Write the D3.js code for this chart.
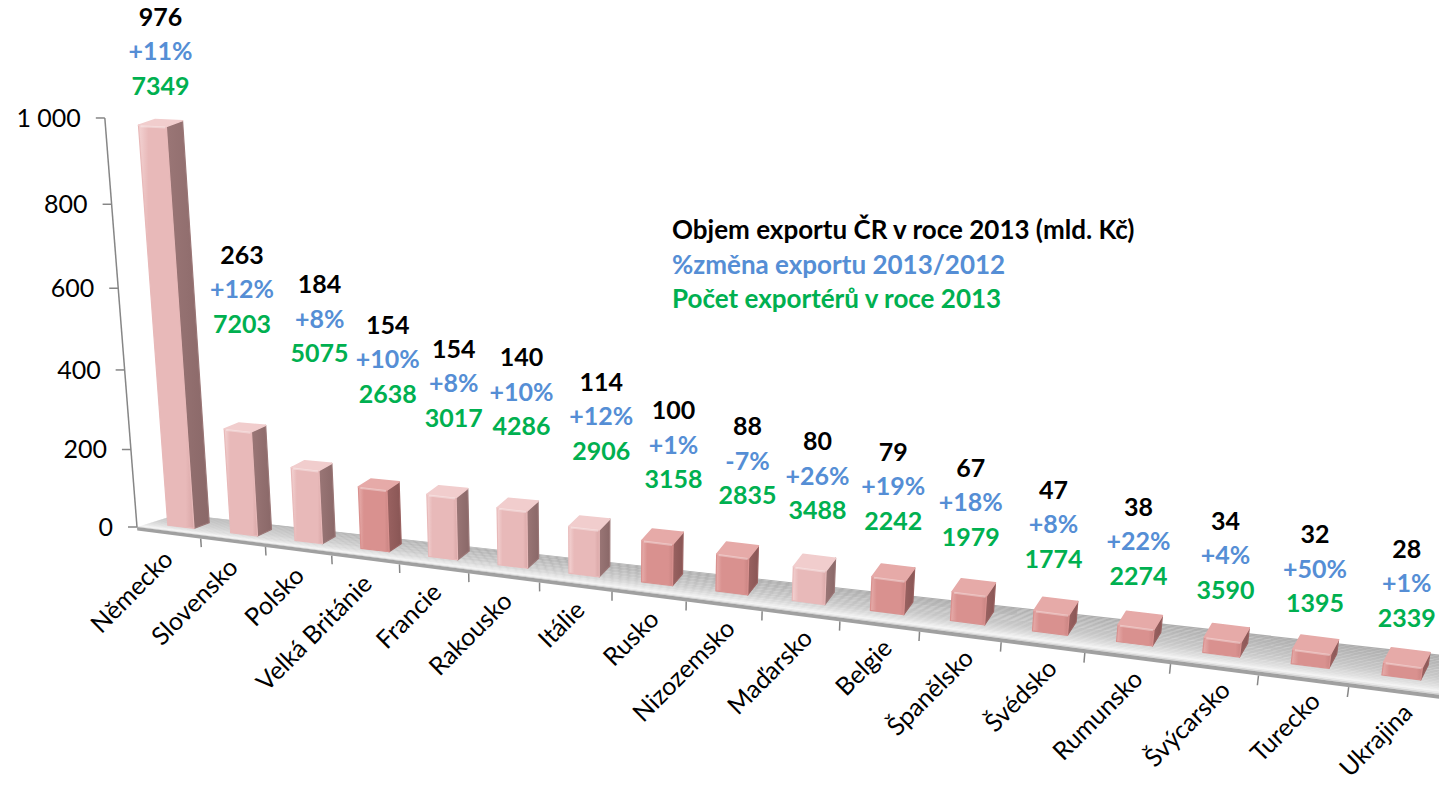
<!DOCTYPE html>
<html>
<head>
<meta charset="utf-8">
<script src="https://cdn.jsdelivr.net/npm/d3@7"></script>
<style>
  html, body { margin: 0; padding: 0; background: #ffffff; }
  svg { display: block; }
</style>
</head>
<body>
<svg id="chart" width="1439" height="791"></svg>
<script>
// ---------------- data ----------------
const categories = ["Německo","Slovensko","Polsko","Velká Británie","Francie","Rakousko","Itálie","Rusko","Nizozemsko","Maďarsko","Belgie","Španělsko","Švédsko","Rumunsko","Švýcarsko","Turecko","Ukrajina"];
const exportVolume = [976, 263, 184, 154, 154, 140, 114, 100, 88, 80, 79, 67, 47, 38, 34, 32, 28];
const exportChange = [11, 12, 8, 10, 8, 10, 12, 1, -7, 26, 19, 18, 8, 22, 4, 50, 1];
const exporterCount = [7349, 7203, 5075, 2638, 3017, 4286, 2906, 3158, 2835, 3488, 2242, 1979, 1774, 2274, 3590, 1395, 2339];
const barGroup = ["A","A","A","B","A","A","A","B","B","A","B","B","B","B","B","B","B"];
const valueTicks = [0, 200, 400, 600, 800, 1000];
const legendLabels = ["Objem exportu ČR v roce 2013 (mld. Kč)", "%změna exportu 2013/2012", "Počet exportérů v roce 2013"];

// ---------------- setup ----------------
const svg = d3.select("#chart");
const FONT = "Lato, 'Open Sans', sans-serif";
const locale = d3.formatLocale({decimal: ",", thousands: " ", grouping: [3], currency: ["", " Kč"], minus: "-"});
const fmtTick = locale.format(",");
const fmtPct = v => locale.format("+d")(v) + "%";
const fmtCount = locale.format("d");

// world scales
const xBand = d3.scaleBand().domain(categories).range([0, categories.length]);
const yWorld = d3.scaleLinear().domain([0, 1000]).range([0, 1]);
// depth direction (oblique, varies along the floor to mimic perspective)
const zx = d3.scaleLinear().domain([0, 3, 8, 17]).range([16, 12, 9, 6]);
const zy = d3.scaleLinear().domain([0, 8, 17]).range([-5, -11, -12]);

// perspective projection (fitted to the picture)
const P = {a0: 137, a1: 61.3, a3: -39, b0: 527, b1: 2.435, b3: -416.7, c1: -0.01072, c3: -0.0651};
function proj(X, Y, Z) {
  const w = 1 + P.c1 * X + P.c3 * Y;
  return [(P.a0 + P.a1 * X + P.a3 * Y + Z * zx(X)) / w,
          (P.b0 + P.b1 * X + P.b3 * Y + Z * zy(X)) / w];
}
const poly = pts => pts.map(p => p.join(",")).join(" ");

const nCat = categories.length;
const floorDepth = 2.6, zFront = 0.8, zBack = 1.8, slab = -0.009;

// ---------------- defs (gradients) ----------------
const defs = svg.append("defs");
const palette = {
  A: {front: "#e8b9b9", light: "#f3d3d3", dark: "#d9a7a7", side: "#9a7676", sideDark: "#8a6868", top: "#f1cdcd"},
  B: {front: "#d9918f", light: "#e7aeac", dark: "#c98482", side: "#9a6261", sideDark: "#895655", top: "#e6aaa8"}
};
Object.entries(palette).forEach(([k, c]) => {
  const gf = defs.append("linearGradient").attr("id", "front" + k).attr("x1", 0).attr("x2", 1).attr("y1", 0).attr("y2", 0);
  gf.append("stop").attr("offset", 0).attr("stop-color", c.light);
  gf.append("stop").attr("offset", 0.18).attr("stop-color", c.front);
  gf.append("stop").attr("offset", 0.85).attr("stop-color", c.front);
  gf.append("stop").attr("offset", 1).attr("stop-color", c.dark);
  const gs = defs.append("linearGradient").attr("id", "side" + k).attr("x1", 0).attr("x2", 1).attr("y1", 0).attr("y2", 0);
  gs.append("stop").attr("offset", 0).attr("stop-color", c.side);
  gs.append("stop").attr("offset", 1).attr("stop-color", c.sideDark);
});

// ---------------- floor ----------------
const gFloor = svg.append("g");
const floorShade = d3.scaleLinear().domain([0, 0.08, 0.2, 0.45, 1]).range(["#c9c9c9", "#f6f6f6", "#e1e1e1", "#c8c8c8", "#adadad"]);
const nStrips = 26;
d3.range(nStrips).forEach(s => {
  const z0 = floorDepth * s / nStrips, z1 = floorDepth * (s + 1.15) / nStrips;
  gFloor.append("polygon")
    .attr("points", poly([proj(0, 0, z0), proj(nCat, 0, z0), proj(nCat, 0, Math.min(z1, floorDepth)), proj(0, 0, Math.min(z1, floorDepth))]))
    .attr("fill", floorShade((s + 0.5) / nStrips));
});
gFloor.append("polygon")
  .attr("points", poly([proj(0, 0, 0), proj(nCat, 0, 0), proj(nCat, slab, 0), proj(0, slab, 0)]))
  .attr("fill", "#a0a0a0");
gFloor.selectAll("line.ctick").data(d3.range(1, nCat)).join("line")
  .attr("class", "ctick")
  .attr("x1", i => proj(i, slab, 0)[0]).attr("y1", i => proj(i, slab, 0)[1])
  .attr("x2", i => proj(i, slab - 0.022, 0)[0]).attr("y2", i => proj(i, slab - 0.022, 0)[1])
  .attr("stroke", "#868686").attr("stroke-width", 1.5);

// ---------------- value axis ----------------
const axisLine = [proj(0, 0, 0), proj(0, 1, 0)];
svg.append("line")
  .attr("x1", axisLine[0][0]).attr("y1", axisLine[0][1])
  .attr("x2", axisLine[1][0]).attr("y2", axisLine[1][1])
  .attr("stroke", "#868686").attr("stroke-width", 1.5);
const yAxis = d3.axisLeft(d3.scaleLinear().domain([0, 1000]).range([0, 1]))
  .tickValues(valueTicks).tickFormat(fmtTick).tickSize(9).tickPadding(15);
const gAxis = svg.append("g").call(yAxis)
  .attr("font-family", FONT).attr("font-size", 25);
gAxis.select(".domain").remove();
gAxis.selectAll(".tick")
  .attr("transform", d => { const p = proj(0, yWorld(d), 0); return `translate(${p[0]},${p[1]})`; });
gAxis.selectAll(".tick line").attr("stroke", "#868686").attr("stroke-width", 1.5);
gAxis.selectAll(".tick text").attr("fill", "#000").attr("dy", "0.35em");

// ---------------- bars ----------------
const bw = xBand.bandwidth() * 0.42;
const bars = categories.map((c, i) => {
  const X0 = xBand(c) + (xBand.bandwidth() - bw) / 2, X1 = X0 + bw, Y = yWorld(exportVolume[i]);
  return {c, i, X0, X1, Y, g: barGroup[i]};
});
const gBars = svg.append("g");
bars.forEach(b => {
  const g = gBars.append("g");
  const col = palette[b.g];
  g.append("polygon")
    .attr("points", poly([proj(b.X1, 0, zFront), proj(b.X1, 0, zBack), proj(b.X1, b.Y, zBack), proj(b.X1, b.Y, zFront)]))
    .attr("fill", `url(#side${b.g})`).attr("stroke", col.side).attr("stroke-width", 1.2).attr("stroke-linejoin", "round");
  g.append("polygon")
    .attr("points", poly([proj(b.X0, 0, zFront), proj(b.X1, 0, zFront), proj(b.X1, b.Y, zFront), proj(b.X0, b.Y, zFront)]))
    .attr("fill", `url(#front${b.g})`).attr("stroke", col.front).attr("stroke-width", 1.2).attr("stroke-linejoin", "round");
  g.append("polygon")
    .attr("points", poly([proj(b.X0, b.Y, zFront), proj(b.X1, b.Y, zFront), proj(b.X1, b.Y, zBack), proj(b.X0, b.Y, zBack)]))
    .attr("fill", col.top).attr("stroke", col.top).attr("stroke-width", 1.5).attr("stroke-linejoin", "round");
  const e0 = proj(b.X0, b.Y, zFront), e1 = proj(b.X1, b.Y, zFront);
  g.append("line").attr("x1", e0[0] + 2).attr("y1", e0[1] + 1).attr("x2", e1[0] - 1).attr("y2", e1[1] + 1)
    .attr("stroke", "#ffffff").attr("stroke-opacity", 0.35).attr("stroke-width", 2);
});

// ---------------- data labels ----------------
// layout rules for the hand-placed label blocks (lift above the bar top, sideways nudge)
const labelLift = d3.scaleLinear().domain([0, 1, 2, 3, 4, 5, 6, 7, 9, 11, 13, 16]).range([69, 135, 143, 121, 104, 108, 101, 86, 80.5, 78.5, 72, 67]);
const labelNudge = d3.scaleLinear().domain([0, 1, 2, 3, 5, 6, 8, 9, 11, 16]).range([0, -3, 8, 9, 4, 12, 10, 3, -3, 0]);
const lineGap = 34.5;
const gLabels = svg.append("g").attr("font-family", FONT).attr("font-weight", 700).attr("font-size", 25).attr("text-anchor", "middle");
bars.forEach(b => {
  const cx = (b.X0 + b.X1) / 2;
  const topY = proj(cx, b.Y, zBack)[1];
  const x = proj(cx, b.Y, (zFront + zBack) / 2)[0] + labelNudge(b.i);
  const mid = topY - labelLift(b.i);
  gLabels.append("text").attr("x", x).attr("y", mid - lineGap).attr("dy", "0.36em").attr("fill", "#000000").text(exportVolume[b.i]);
  gLabels.append("text").attr("x", x).attr("y", mid).attr("dy", "0.36em").attr("fill", "#558ed5").text(fmtPct(exportChange[b.i]));
  gLabels.append("text").attr("x", x).attr("y", mid + lineGap).attr("dy", "0.36em").attr("fill", "#00b050").text(fmtCount(exporterCount[b.i]));
});

// ---------------- category labels ----------------
svg.append("g").attr("font-family", FONT).attr("font-size", 25).attr("fill", "#000")
  .selectAll("text").data(categories).join("text")
  .attr("text-anchor", "end")
  .attr("transform", (c, i) => { const p = proj(xBand(c) + xBand.bandwidth() / 2, 0, 0); return `translate(${p[0] + 6 + 0.8 * i},${p[1] + 30 - 0.3 * i}) rotate(-45)`; })
  .text(c => c);

// ---------------- legend ----------------
const legendColors = ["#000000", "#558ed5", "#00b050"];
svg.append("g").attr("font-family", FONT).attr("font-weight", 700).attr("font-size", 26)
  .selectAll("text").data(legendLabels).join("text")
  .attr("x", 672).attr("y", (d, i) => 239 + i * 34.5)
  .attr("fill", (d, i) => legendColors[i])
  .text(d => d);
</script>
</body>
</html>
